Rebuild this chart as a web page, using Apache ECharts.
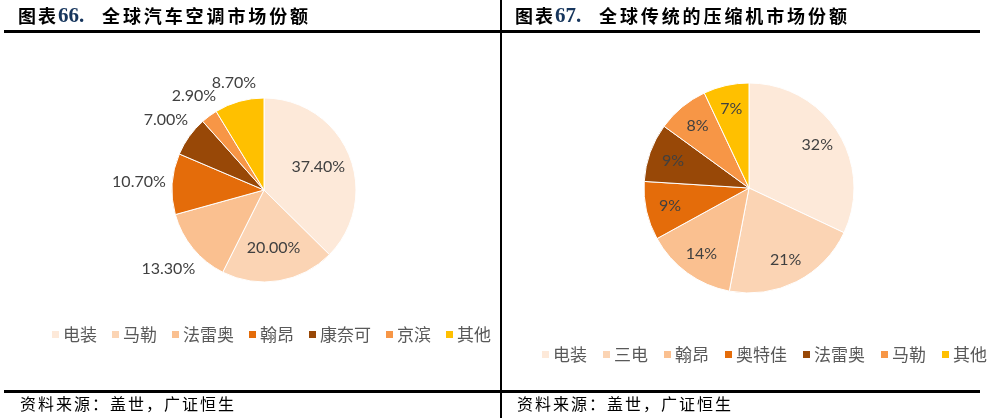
<!DOCTYPE html>
<html>
<head>
<meta charset="utf-8">
<script src="https://cdn.jsdelivr.net/npm/echarts@6/dist/echarts.min.js"></script>
<style>
  html, body { margin: 0; padding: 0; background: #fff; }
  #wrap { position: relative; width: 993px; height: 418px; }
  #left { position: absolute; left: 0; top: 0; width: 502px; height: 418px; }
  #right { position: absolute; left: 502px; top: 0; width: 491px; height: 418px; }
</style>
</head>
<body>
<div id="wrap">
  <div id="left"></div>
  <div id="right"></div>
</div>
<script>
// 图表66 数据
const leftNames = ['电装', '马勒', '法雷奥', '翰昂', '康奈可', '京滨', '其他'];
const leftValues = [37.4, 20.0, 13.3, 10.7, 7.0, 2.9, 8.7];
const leftInside = [true, true, false, false, false, false, false];

// 图表67 数据
const rightNames = ['电装', '三电', '翰昂', '奥特佳', '法雷奥', '马勒', '其他'];
const rightValues = [32, 21, 14, 9, 9, 8, 7];
const rightInside = [true, true, true, true, true, true, true];

const sliceColors = ['#FDE9D9', '#FBD4B4', '#FAC090', '#E46C0A', '#984807', '#F79646', '#FFC000'];

const leftTitleNo = '66.';
const leftTitle = '全球汽车空调市场份额';
const rightTitleNo = '67.';
const rightTitle = '全球传统的压缩机市场份额';
const sourceText = '资料来源：盖世，广证恒生';

const cnFont = '"Noto Sans CJK SC", sans-serif';

// 扇区中线方向（从12点钟顺时针）
function midDir(values, i) {
    const total = values.reduce((a, b) => a + b, 0);
    let before = 0;
    for (let k = 0; k < i; k++) before += values[k];
    const theta = (before + values[i] / 2) / total * Math.PI * 2;
    return [Math.sin(theta), -Math.cos(theta)];
}

function makeLabelLayout(values, inside, center, radius, ratio, gap) {
    return function (p) {
        const d = midDir(values, p.dataIndex);
        let dist;
        if (inside[p.dataIndex]) {
            dist = radius * ratio;
        } else {
            dist = radius + gap + Math.abs(d[0]) * p.labelRect.width / 2 + Math.abs(d[1]) * p.labelRect.height / 2;
        }
        return {
            x: center[0] + d[0] * dist,
            y: center[1] + d[1] * dist,
            align: 'center',
            verticalAlign: 'middle'
        };
    };
}

// 标题、来源逐字排列
function charRow(str, x0, pitch, y, style) {
    return str.split('').map(function (ch, i) {
        return {
            type: 'text',
            x: x0 + i * pitch,
            y: y,
            style: Object.assign({ text: ch, verticalAlign: 'middle', fill: '#000' }, style)
        };
    });
}

function frame(opts) {
    const g = [];
    g.push({ type: 'rect', shape: { x: opts.lineX0, y: 30, width: opts.lineX1 - opts.lineX0, height: 3 }, style: { fill: '#000' } });
    g.push({ type: 'rect', shape: { x: opts.lineX0, y: 390, width: opts.lineX1 - opts.lineX0, height: 3 }, style: { fill: '#000' } });
    if (opts.vLineX != null) {
        g.push({ type: 'rect', shape: { x: opts.vLineX, y: 0, width: 3, height: 418 }, style: { fill: '#000' } });
    }
    const bold = { font: 'bold 18px ' + cnFont };
    g.push.apply(g, charRow('图表', opts.titleX, 20, 16, bold));
    g.push({
        type: 'text', x: opts.titleX + 40, y: 17,
        style: { text: opts.no, font: 'bold 21px "Liberation Serif", serif', fill: '#17365D', verticalAlign: 'middle' }
    });
    g.push.apply(g, charRow(opts.title, opts.titleX + 84, 20.9, 16, bold));
    g.push.apply(g, charRow(sourceText, opts.srcX, 18, 404, { font: '16px ' + cnFont }));
    return g;
}

function pieOption(cfg) {
    return {
        animation: false,
        backgroundColor: '#fff',
        color: sliceColors,
        graphic: cfg.graphic,
        legend: {
            data: cfg.names,
            left: cfg.legendLeft,
            top: cfg.legendTop,
            padding: 0,
            icon: 'rect',
            itemWidth: 9,
            itemHeight: 9,
            itemGap: cfg.legendGap,
            selectedMode: false,
            textStyle: { color: '#595959', fontSize: 17, fontFamily: cnFont, padding: [0, 0, 0, -2] }
        },
        series: [{
            type: 'pie',
            center: cfg.center,
            radius: cfg.radius,
            startAngle: 90,
            clockwise: true,
            avoidLabelOverlap: false,
            silent: true,
            itemStyle: { borderColor: '#fff', borderWidth: 1 },
            label: {
                show: true,
                position: 'inside',
                color: '#404040',
                fontSize: 16,
                fontFamily: 'Lato, sans-serif',
                formatter: cfg.formatter
            },
            labelLine: { show: false },
            labelLayout: makeLabelLayout(cfg.values, cfg.inside, cfg.center, cfg.radius, cfg.ratio, 6),
            data: cfg.names.map(function (n, i) {
                return { name: n, value: cfg.values[i] };
            })
        }]
    };
}

const leftChart = echarts.init(document.getElementById('left'));
const rightChart = echarts.init(document.getElementById('right'));

leftChart.setOption(pieOption({
    names: leftNames,
    values: leftValues,
    inside: leftInside,
    center: [264, 190],
    radius: 92,
    ratio: 0.64,
    legendLeft: 50,
    legendTop: 326,
    legendGap: 13,
    formatter: function (p) { return p.value.toFixed(2) + '%'; },
    graphic: frame({ lineX0: 4, lineX1: 502, vLineX: 500, titleX: 18, no: leftTitleNo, title: leftTitle, srcX: 20 })
}));

rightChart.setOption(pieOption({
    names: rightNames,
    values: rightValues,
    inside: rightInside,
    center: [247, 188],
    radius: 105,
    ratio: 0.77,
    legendLeft: 38,
    legendTop: 346,
    legendGap: 14,
    formatter: function (p) { return p.value + '%'; },
    graphic: frame({ lineX0: 0, lineX1: 478, vLineX: null, titleX: 13, no: rightTitleNo, title: rightTitle, srcX: 15 })
}));
</script>
</body>
</html>
